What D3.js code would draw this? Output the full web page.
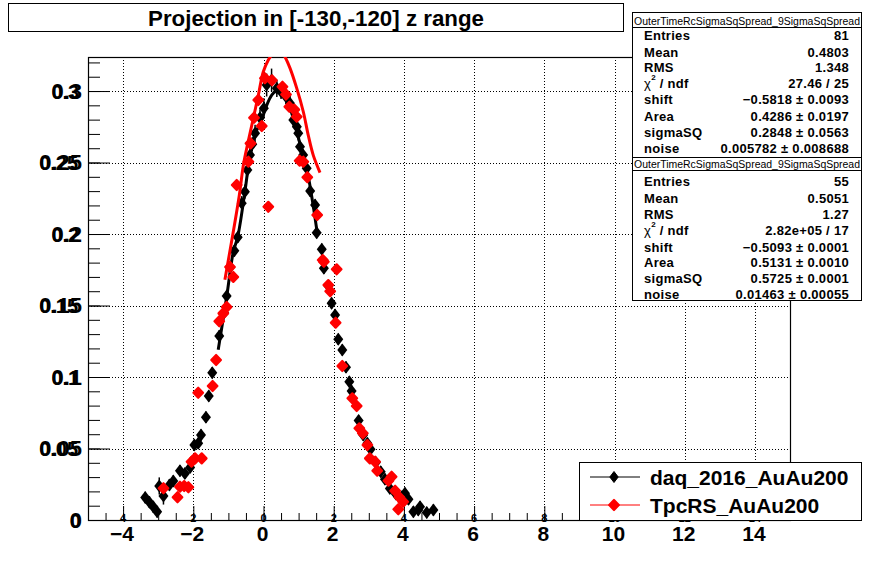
<!DOCTYPE html>
<html>
<head>
<meta charset="utf-8">
<script src="https://cdn.jsdelivr.net/npm/d3@7"></script>
<style>
  body { margin: 0; background: #fff; }
  svg text { font-family: "Liberation Sans", Arial, Helvetica, sans-serif; }
</style>
</head>
<body>
<svg id="c" width="878" height="578"></svg>
<script>
//data
var titleText = "Projection in [-130,-120] z range";
var xTicks = [-4, -2, 0, 2, 4, 6, 8, 10, 12, 14];
var yTicks = [0, 0.05, 0.1, 0.15, 0.2, 0.25, 0.3];
var yTickLabels = ["0", "0.05", "0.1", "0.15", "0.2", "0.25", "0.3"];
var seriesNames = ["daq_2016_AuAu200", "TpcRS_AuAu200"];

//[x, y, error]
var daqPoints = [
  [-3.37,0.0158,0.004],[-3.25,0.0125,0.004],[-3.14,0.0092,0.004],[-3.03,0.0058,0.004],
  [-2.97,0.0238,0.006],[-2.85,0.0168,0.006],[-2.68,0.0245,0.004],[-2.57,0.0273,0.004],
  [-2.38,0.0345,0.004],[-2.24,0.0326,0.004],[-2.09,0.0368,0.004],[-1.97,0.0524,0.004],
  [-1.86,0.0536,0.004],[-1.78,0.0594,0.004],[-1.64,0.0718,0.004],[-1.56,0.0867,0.004],
  [-1.46,0.103,0.004],[-1.26,0.1287,0.004],[-1.12,0.145,0.004],[-1.05,0.1566,0.004],
  [-0.95,0.1767,0.004],[-0.83,0.1883,0.004],[-0.735,0.1977,0.004],[-0.62,0.2215,0.005],
  [-0.53,0.2296,0.005],[-0.46,0.2448,0.005],[-0.385,0.2552,0.005],[-0.32,0.2627,0.005],
  [-0.24,0.2704,0.006],[-0.10,0.2813,0.006],[0.01,0.2879,0.007],[0.09,0.3042,0.008],
  [0.23,0.3077,0.008],[0.38,0.3019,0.006],[0.50,0.2995,0.005],[0.64,0.296,0.005],
  [0.755,0.2914,0.005],[0.85,0.2797,0.005],[0.95,0.275,0.005],[0.99,0.2704,0.005],
  [1.04,0.261,0.004],[1.13,0.2552,0.004],[1.23,0.246,0.004],[1.33,0.23,0.004],
  [1.47,0.2203,0.004],[1.515,0.2009,0.004],[1.66,0.1893,0.004],[1.72,0.176,0.004],
  [1.85,0.1636,0.004],[1.94,0.1515,0.004],[2.04,0.1434,0.004],[2.13,0.1264,0.004],
  [2.245,0.1189,0.004],[2.35,0.1068,0.004],[2.445,0.0967,0.004],[2.51,0.0902,0.004],
  [2.71,0.0695,0.004],[2.84,0.0594,0.004],[2.96,0.0536,0.004],[3.05,0.0494,0.004],
  [3.2,0.0403,0.004],[3.34,0.0338,0.004],[3.46,0.0285,0.004],[3.6,0.0221,0.004],
  [3.77,0.0182,0.004],[3.94,0.0163,0.004],[4.03,0.0187,0.004],[4.13,0.0145,0.004],
  [4.27,0.0058,0.004],[4.41,0.007,0.004],[4.46,0.0093,0.004],[4.65,0.0052,0.004],
  [4.84,0.007,0.004]
];

var tpcPoints = [
  [-2.85,0.0222],[-2.45,0.0159],[-2.38,0.0233],[-2.26,0.0238],[-2.14,0.0229],
  [-2.05,0.0408],[-1.95,0.0431],[-1.86,0.089],[-1.76,0.0431],[-1.45,0.0937],
  [-1.35,0.1119],[-1.26,0.139],[-1.145,0.1445],[-1.05,0.149],[-0.954,0.177],
  [-0.86,0.170],[-0.764,0.2343],[-0.43,0.2506],[-0.37,0.2634],[-0.27,0.2813],
  [-0.148,0.2937],[-0.05,0.2755],[0.04,0.3089],[0.137,0.219],[0.24,0.3075],
  [0.54,0.303],[0.641,0.2975],[0.736,0.289],[0.877,0.287],[0.946,0.282],
  [1.03,0.2513],[1.134,0.2506],[1.248,0.2397],[1.53,0.2133],[1.687,0.1818],
  [1.72,0.1806],[1.846,0.1643],[1.90,0.1600],[2.085,0.1753],[2.055,0.138],
  [2.245,0.1077],[2.53,0.0851],[2.655,0.0797],[2.73,0.0641],[2.83,0.0606],
  [2.96,0.0524],[3.03,0.0431],[3.18,0.0408],[3.24,0.0345],[3.56,0.0275],
  [3.65,0.0303],[3.75,0.0205],[3.84,0.0075],[3.87,0.0159],[3.98,0.0128]
];

//fit curves as traced
var daqFit = [
  [-1.29,0.119],[-1.05,0.156],[-0.86,0.1876],[-0.735,0.198],[-0.53,0.2296],
  [-0.385,0.255],[-0.24,0.270],[-0.07,0.2786],[0.09,0.290],[0.23,0.297],
  [0.36,0.300],[0.52,0.298],[0.68,0.2925],[0.85,0.281],[1.04,0.263],
  [1.23,0.246],[1.37,0.227],[1.53,0.201]
];
var tpcFit = [
  [-1.10,0.168],[-0.69,0.227],[-0.575,0.248],[-0.433,0.265],[-0.29,0.281],
  [-0.148,0.297],[-0.006,0.3135],[0.137,0.3217],[0.24,0.3255],[0.42,0.331],
  [0.61,0.324],[0.755,0.316],[0.946,0.302],[1.134,0.2855],[1.276,0.269],
  [1.419,0.255],[1.61,0.243]
];

var stats1Labels = ["Entries", "Mean", "RMS", "chi", "shift", "Area", "sigmaSQ", "noise"];
var stats1Values = ["81", "0.4803", "1.348", "27.46 / 25", "\u22120.5818 \u00b1 0.0093",
  "0.4286 \u00b1 0.0197", "0.2848 \u00b1 0.0563", "0.005782 \u00b1 0.008688"];
var stats2Values = ["55", "0.5051", "1.27", "2.82e+05 / 17", "\u22120.5093 \u00b1 0.0001",
  "0.5131 \u00b1 0.0010", "0.5725 \u00b1 0.0001", "0.01463 \u00b1 0.00055"];
var statsHeader = "OuterTimeRcSigmaSqSpread_9SigmaSqSpread";

var svg = d3.select("#c");
var frame = {left: 88, right: 790, top: 57, bottom: 520};

var x = d3.scaleLinear().domain([-5, 15]).range([frame.left, frame.right]);
var y = d3.scaleLinear().domain([0, 0.3238]).range([frame.bottom, frame.top]);

svg.append("rect").attr("width", 878).attr("height", 578).attr("fill", "#fff");

svg.append("clipPath").attr("id", "frameClip")
  .append("rect")
    .attr("x", frame.left).attr("y", frame.top)
    .attr("width", frame.right - frame.left).attr("height", frame.bottom - frame.top);

//grid
var grid = svg.append("g").attr("stroke", "#000").attr("stroke-width", 1).attr("stroke-dasharray", "1,2");
grid.selectAll("line.gx").data(xTicks).enter().append("line")
  .attr("x1", function(d) { return Math.round(x(d)) + 0.5; })
  .attr("x2", function(d) { return Math.round(x(d)) + 0.5; })
  .attr("y1", frame.top).attr("y2", frame.bottom);
grid.selectAll("line.gy").data(yTicks.slice(1)).enter().append("line")
  .attr("y1", function(d) { return Math.round(y(d)) + 0.5; })
  .attr("y2", function(d) { return Math.round(y(d)) + 0.5; })
  .attr("x1", frame.left).attr("x2", frame.right);

//axes drawn with d3 axis, ROOT style ticks pointing inward
var xMinor = d3.range(-5, 15.01, 0.5);
svg.append("g")
  .attr("transform", "translate(0," + frame.bottom + ")")
  .call(d3.axisTop(x).tickValues(xMinor).tickSize(7).tickFormat(""))
  .call(function(g) { g.select(".domain").remove(); });
svg.append("g")
  .attr("transform", "translate(0," + frame.bottom + ")")
  .call(d3.axisTop(x).tickValues(xTicks).tickSize(14).tickFormat(""))
  .call(function(g) { g.select(".domain").remove(); });

var yMinor = d3.range(0, 0.3238, 0.01);
svg.append("g")
  .attr("transform", "translate(" + frame.left + ",0)")
  .call(d3.axisRight(y).tickValues(yMinor).tickSize(12).tickFormat(""))
  .call(function(g) { g.select(".domain").remove(); });
svg.append("g")
  .attr("transform", "translate(" + frame.left + ",0)")
  .call(d3.axisRight(y).tickValues(yTicks).tickSize(22).tickFormat(""))
  .call(function(g) { g.select(".domain").remove(); });

svg.append("rect")
  .attr("x", frame.left + 0.5).attr("y", frame.top + 0.5)
  .attr("width", frame.right - frame.left).attr("height", frame.bottom - frame.top)
  .attr("fill", "none").attr("stroke", "#000").attr("stroke-width", 1.2);

//tick labels: big ones below, a second small set sits just above the axis line
svg.append("g").selectAll("text").data(xTicks).enter().append("text")
  .attr("x", function(d) { return x(d) - 1; })
  .attr("y", 541)
  .attr("text-anchor", "middle")
  .attr("font-size", 21).attr("font-weight", "bold")
  .text(function(d) { return d < 0 ? "\u2212" + Math.abs(d) : d; });

svg.append("g").selectAll("text").data(xTicks).enter().append("text")
  .attr("x", function(d) { return x(d); })
  .attr("y", 522)
  .attr("text-anchor", "middle")
  .attr("font-size", 11).attr("font-weight", "bold")
  .text(function(d) { return Math.abs(d); });

//y labels are doubled in the original: two sizes sharing the left edge
var yLab = svg.append("g").selectAll("text").data(yTicks).enter().append("text")
  .attr("x", 82)
  .attr("y", function(d) { return y(d) + 7.5; })
  .attr("text-anchor", "end")
  .attr("font-size", 22).attr("font-weight", "bold")
  .text(function(d, i) { return yTickLabels[i]; });
yLab.each(function(d, i) {
  var w = this.getComputedTextLength();
  svg.append("text")
    .attr("x", 82 - w)
    .attr("y", y(d) + 7.5)
    .attr("font-size", 20).attr("font-weight", "bold")
    .text(yTickLabels[i]);
});

//markers
var diamondBlack = "M0,-6.5L5,0L0,6.5L-5,0Z";
var diamondRed = "M0,-5L4.8,0L0,5L-4.8,0Z";

var plot = svg.append("g").attr("clip-path", "url(#frameClip)");

plot.append("g").selectAll("line").data(daqPoints).enter().append("line")
  .attr("x1", function(d) { return x(d[0]); })
  .attr("x2", function(d) { return x(d[0]); })
  .attr("y1", function(d) { return y(d[1] - d[2]); })
  .attr("y2", function(d) { return y(d[1] + d[2]); })
  .attr("stroke", "#000").attr("stroke-width", 1.5);

var line = d3.line()
  .x(function(d) { return x(d[0]); })
  .y(function(d) { return y(d[1]); })
  .curve(d3.curveCatmullRom.alpha(0.5));

plot.append("path").datum(daqFit)
  .attr("d", line).attr("fill", "none").attr("stroke", "#000").attr("stroke-width", 3);

plot.append("g").selectAll("path").data(daqPoints).enter().append("path")
  .attr("d", diamondBlack)
  .attr("transform", function(d) { return "translate(" + x(d[0]) + "," + y(d[1]) + ")"; })
  .attr("fill", "#000");

plot.append("g").selectAll("path").data(tpcPoints).enter().append("path")
  .attr("d", diamondRed)
  .attr("transform", function(d) { return "translate(" + x(d[0]) + "," + y(d[1]) + ")"; })
  .attr("fill", "#ff0000").attr("stroke", "#ff0000").attr("stroke-width", 2.2).attr("stroke-linejoin", "round");

plot.append("path").datum(tpcFit)
  .attr("d", line).attr("fill", "none").attr("stroke", "#ff0000").attr("stroke-width", 3);

//stats boxes
function statsBox(top, bottom, values, rowY, headerY, sepY) {
  var g = svg.append("g");
  g.append("rect").attr("x", 632.5).attr("y", top + 0.5)
    .attr("width", 229).attr("height", bottom - top)
    .attr("fill", "#fff").attr("stroke", "#000");
  g.append("line").attr("x1", 632.5).attr("x2", 861.5)
    .attr("y1", sepY + 0.5).attr("y2", sepY + 0.5).attr("stroke", "#000");
  g.append("text").attr("x", 634).attr("y", headerY + 3.5)
    .attr("font-size", 10).attr("textLength", 226).attr("lengthAdjust", "spacingAndGlyphs")
    .text(statsHeader);
  stats1Labels.forEach(function(lab, i) {
    var t = g.append("text").attr("x", 644).attr("y", rowY[i] + 5)
      .attr("font-size", 13).attr("font-weight", "bold").attr("letter-spacing", 0.3);
    if(lab === "chi") {
      t.append("tspan").text("\u03c7").attr("font-weight", "normal");
      t.append("tspan").text("2").attr("font-size", 8).attr("dy", -8);
      t.append("tspan").text(" / ndf").attr("dy", 8);
    } else {
      t.text(lab);
    }
    g.append("text").attr("x", 849).attr("y", rowY[i] + 5)
      .attr("text-anchor", "end").attr("font-size", 13).attr("font-weight", "bold")
      .attr("letter-spacing", 0.3)
      .text(values[i]);
  });
}
statsBox(12, 157, stats1Values, [35, 51.5, 67, 83, 99, 115.5, 131.5, 148], 21, 27);
statsBox(157, 300, stats2Values, [181, 197.5, 214, 230, 246.5, 262, 278, 294], 164, 170);

//legend
var leg = svg.append("g");
leg.append("rect").attr("x", 579.5).attr("y", 462.5).attr("width", 282).attr("height", 58)
  .attr("fill", "#fff").attr("stroke", "#000");
[{c: "#000", y: 477, m: "M0,-5.5L4.2,0L0,5.5L-4.2,0Z"}, {c: "#ff0000", y: 505, m: diamondRed}].forEach(function(e, i) {
  leg.append("line").attr("x1", 590).attr("x2", 640).attr("y1", e.y).attr("y2", e.y)
    .attr("stroke", e.c).attr("stroke-width", 1);
  leg.append("path").attr("d", e.m).attr("transform", "translate(614," + e.y + ")")
    .attr("fill", e.c).attr("stroke", e.c).attr("stroke-linejoin", "round").attr("stroke-width", i ? 2.2 : 1);
  leg.append("text").attr("x", 650).attr("y", e.y + 7.5)
    .attr("font-size", 21).attr("font-weight", "bold").text(seriesNames[i]);
});

//title
svg.append("rect").attr("x", 8.5).attr("y", 3.5).attr("width", 615).attr("height", 28)
  .attr("fill", "#fff").attr("stroke", "#000");
svg.append("text").attr("x", 316).attr("y", 26)
  .attr("text-anchor", "middle").attr("font-size", 22).attr("font-weight", "bold")
  .attr("textLength", 336).attr("lengthAdjust", "spacingAndGlyphs")
  .text(titleText);
</script>
</body>
</html>
